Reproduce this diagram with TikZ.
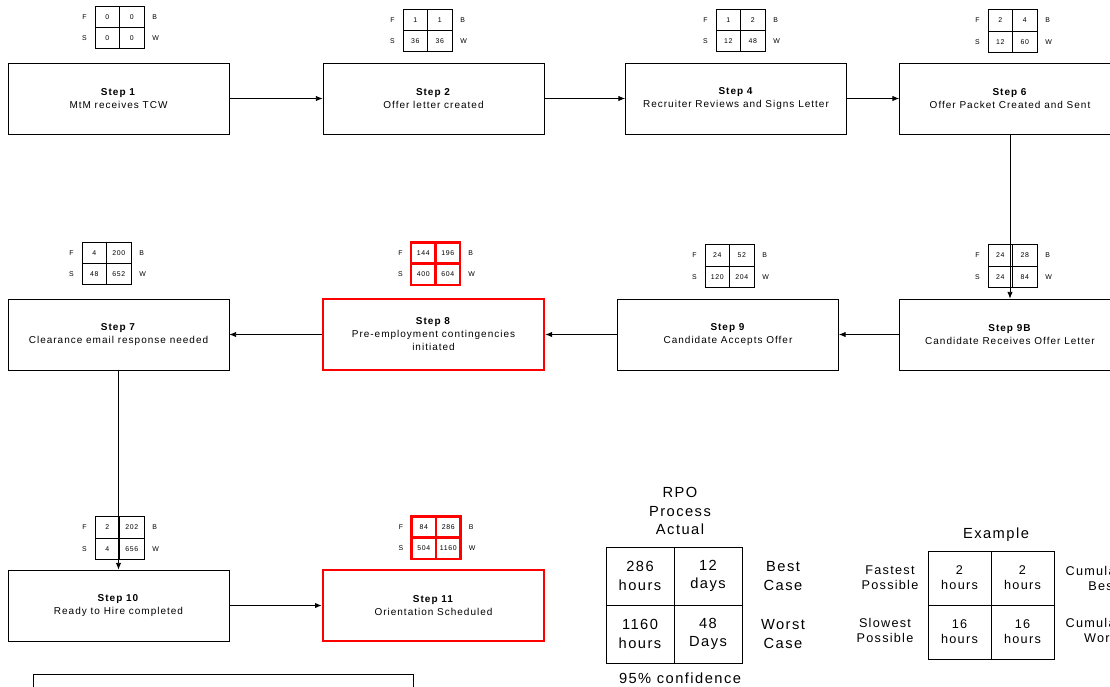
\documentclass[tikz,border=0pt]{standalone}
\usepackage{fontspec}
\setmainfont{Liberation Sans}[LetterSpace=10]
\usetikzlibrary{positioning,arrows.meta}

\tikzset{
  stepbox/.style={draw, line width=0.6pt, minimum width=165.75pt, minimum height=53.25pt,
    align=center, inner sep=0pt, font=\fontsize{7.5}{9.75}\selectfont},
  hotbox/.style={stepbox, draw=red, line width=2pt},
  cell/.style={draw, line width=0.6pt, minimum width=18.4pt, minimum height=16pt,
    inner sep=0pt, outer sep=0pt, font=\fontsize{5.2}{6}\selectfont},
  hotcell/.style={cell, draw=red, line width=2pt},
  lbl/.style={inner sep=0pt, font=\fontsize{5.2}{6}\selectfont},
  flow/.style={-{Latex[length=5pt,width=4pt]}, line width=0.6pt},
  bigtxt/.style={align=center, inner sep=0pt, font=\fontsize{11}{13.8}\selectfont},
  extxt/.style={align=center, inner sep=0pt, font=\fontsize{9.5}{11.2}\selectfont},
  bigcell/.style={bigtxt, draw, line width=0.6pt, outer sep=0pt, minimum width=51pt, minimum height=43.5pt},
  excell/.style={extxt, draw, line width=0.6pt, outer sep=0pt, minimum width=47.25pt, minimum height=40.5pt}
}

% F/B over S/W grid of hours above each step
\newcommand{\timegrid}[8][cell]{%
  \node[#1, anchor=south east] (#2a) at (#3,#4) {#5};
  \node[#1, anchor=south west] (#2b) at (#3,#4) {#6};
  \node[#1, anchor=north east] (#2c) at (#3,#4) {#7};
  \node[#1, anchor=north west] (#2d) at (#3,#4) {#8};
  \node[lbl, left=6pt of #2a] {F};
  \node[lbl, right=6pt of #2b] {B};
  \node[lbl, left=6pt of #2c] {S};
  \node[lbl, right=6pt of #2d] {W};
}

\begin{document}
\begin{tikzpicture}[x=0.75pt, y=-0.75pt]
  \useasboundingbox (0,0) rectangle (1110,686);
  \clip (0,0) rectangle (1110,686);
  % first row of steps
  \node[stepbox] (s1) at (118.5,98.5) {\textbf{Step 1}\\MtM receives TCW};
  \node[stepbox] (s2) at (433.5,98.5) {\textbf{Step 2}\\Offer letter created};
  \node[stepbox] (s4) at (736,98.5) {\textbf{Step 4}\\Recruiter Reviews and Signs Letter};
  \node[stepbox] (s6) at (1010,98.5) {\textbf{Step 6}\\Offer Packet Created and Sent};
  % second row
  \node[stepbox] (s7) at (118.5,334.5) {\textbf{Step 7}\\Clearance email response needed};
  \node[hotbox] (s8) at (433.5,334.5) {\textbf{Step 8}\\Pre-employment contingencies\\initiated};
  \node[stepbox] (s9) at (728,334.5) {\textbf{Step 9}\\Candidate Accepts Offer};
  \node[stepbox] (s9b) at (1010,334.5) {\textbf{Step 9B}\\Candidate Receives Offer Letter};
  % third row
  \node[stepbox] (s10) at (118.5,605.5) {\textbf{Step 10}\\Ready to Hire completed};
  \node[hotbox] (s11) at (433.5,605.5) {\textbf{Step 11}\\Orientation Scheduled};

  % hour grids
  \timegrid{g1}{119.5}{27.5}{0}{0}{0}{0}
  \timegrid{g2}{427.5}{30.5}{1}{1}{36}{36}
  \timegrid{g4}{740.5}{30.5}{1}{2}{12}{48}
  \timegrid{g6}{1012.5}{31}{2}{4}{12}{60}
  \timegrid{g7}{106.5}{263.5}{4}{200}{48}{652}
  \timegrid[hotcell]{g8}{435.5}{263.5}{144}{196}{400}{604}
  \timegrid{g9}{729.5}{266}{24}{52}{120}{204}
  \timegrid{g9b}{1012.5}{266}{24}{28}{24}{84}
  \timegrid{g10}{119.5}{538}{2}{202}{4}{656}
  \timegrid[hotcell]{g11}{436}{537.5}{84}{286}{504}{1160}

  % flow
  \draw[flow] (s1) -- (s2);
  \draw[flow] (s2) -- (s4);
  \draw[flow] (s4) -- (s6);
  \draw[flow] (s6) -- (s9b);
  \draw[flow] (s9b) -- (s9);
  \draw[flow] (s9) -- (s8);
  \draw[flow] (s8) -- (s7);
  \draw[flow] (s7) -- (s10);
  \draw[flow] (s10) -- (s11);

  % RPO summary
  \node[bigtxt] (rpo) at (680,511) {RPO\\Process\\Actual};
  \node[bigcell, anchor=south east] (r1) at (674,605) {286\\hours};
  \node[bigcell, anchor=south west] (r2) at (674,605) {12\\days};
  \node[bigcell, anchor=north east] (r3) at (674,605) {1160\\hours};
  \node[bigcell, anchor=north west] (r4) at (674,605) {48\\Days};
  \node[bigtxt] (best) at (783,576) {Best\\Case};
  \node[bigtxt] (worst) at (783,634) {Worst\\Case};
  \node[bigtxt] (conf) at (680,678) {95\% confidence};

  % example key
  \node[bigtxt] (ex) at (996,535) {Example};
  \node[excell, anchor=south east] (e1) at (991,605) {2\\hours};
  \node[excell, anchor=south west] (e2) at (991,605) {2\\hours};
  \node[excell, anchor=north east] (e3) at (991,605) {16\\hours};
  \node[excell, anchor=north west] (e4) at (991,605) {16\\hours};
  \node[extxt] (fast) at (890,578) {Fastest\\Possible};
  \node[extxt] (slow) at (885,630) {Slowest\\Possible};
  \node[extxt] (cbest) at (1103,578) {Cumulative\\Best};
  \node[extxt] (cworst) at (1103,630) {Cumulative\\Worst};

  % notes frame
  \draw[line width=0.6pt] (33,674) rectangle (413,700);
\end{tikzpicture}
\end{document}
